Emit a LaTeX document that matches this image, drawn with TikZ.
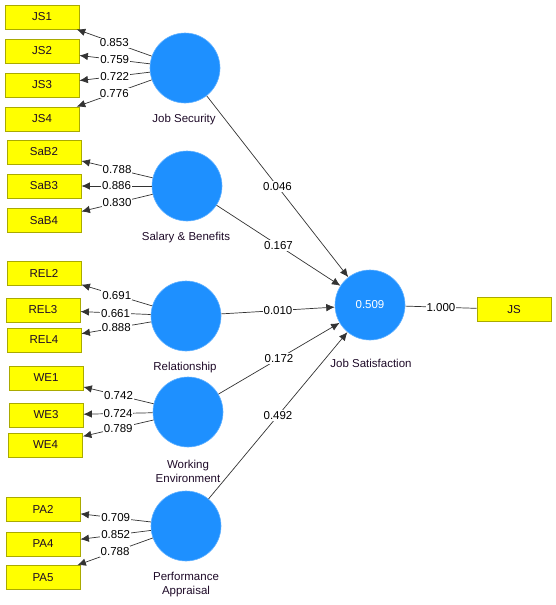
\documentclass[tikz,border=0pt]{standalone}
\usepackage{fontspec}
\setmainfont{Liberation Sans}
\usetikzlibrary{arrows.meta}
\definecolor{lvblue}{RGB}{30,144,255}
\definecolor{indyel}{RGB}{255,255,0}
\definecolor{indbord}{RGB}{170,170,0}
\definecolor{txtcol}{RGB}{30,10,40}
\tikzset{
  ind/.style={draw=indbord, fill=indyel, line width=0.8pt, minimum width=74pt, minimum height=24pt, inner sep=0pt, font=\fontsize{11.5}{13}\selectfont, text=txtcol},
  lv/.style={circle, fill=lvblue, draw=lvblue!70!white, line width=0.6pt, minimum size=70pt, inner sep=0pt, font=\fontsize{11.5}{13}\selectfont, text=white},
  lvlab/.style={font=\fontsize{11.5}{14}\selectfont, text=txtcol, align=center, inner sep=0pt},
  con/.style={draw=black!80, line width=0.7pt},
  arr/.style={con, -{Latex[length=8.5pt,width=7.5pt]}},
  wt/.style={fill=white, inner sep=1pt, font=\fontsize{11.5}{13}\selectfont, text=black, midway}
}
\begin{document}
\begin{tikzpicture}[x=1pt,y=-1pt]
\useasboundingbox (0,0) rectangle (556,605);
% indicators
\node[ind] (JS1) at (42,17) {JS1};
\node[ind] (JS2) at (42,51) {JS2};
\node[ind] (JS3) at (42,85) {JS3};
\node[ind] (JS4) at (42,119) {JS4};
\node[ind] (SaB2) at (44,152) {SaB2};
\node[ind] (SaB3) at (44,186) {SaB3};
\node[ind] (SaB4) at (44,220.5) {SaB4};
\node[ind] (REL2) at (44,273.5) {REL2};
\node[ind] (REL3) at (43,310) {REL3};
\node[ind] (REL4) at (44,340) {REL4};
\node[ind] (WE1) at (46,378) {WE1};
\node[ind] (WE3) at (46,415) {WE3};
\node[ind] (WE4) at (45.5,445) {WE4};
\node[ind] (PA2) at (43,509.5) {PA2};
\node[ind] (PA4) at (43,544) {PA4};
\node[ind] (PA5) at (43,577.5) {PA5};
\node[ind] (JS) at (514,309.5) {JS};
% latent variables
\node[lv] (JSec) at (185,68) {};
\node[lv] (Sal) at (187,186) {};
\node[lv] (Rel) at (186,316) {};
\node[lv] (WEnv) at (188,412) {};
\node[lv] (PApp) at (186,526) {};
\node[lv] (JSat) at (370,305) {0.509};
% latent labels
\node[lvlab] (lJSec) at (184,120) {Job Security};
\node[lvlab] (lSal) at (186,238) {Salary \& Benefits};
\node[lvlab] (lRel) at (185,368) {Relationship};
\node[lvlab] (lWEnv) at (188,471) {Working\\Environment};
\node[lvlab] (lPApp) at (186,585) {Performance\\Appraisal};
\node[lvlab] (lJSat) at (371,363) {Job Satisfaction};
% outer loadings
\draw[arr] (JSec) -- (JS1) node[wt] {0.853};
\draw[arr] (JSec) -- (JS2) node[wt] {0.759};
\draw[arr] (JSec) -- (JS3) node[wt] {0.722};
\draw[arr] (JSec) -- (JS4) node[wt] {0.776};
\draw[arr] (Sal) -- (SaB2) node[wt] {0.788};
\draw[arr] (Sal) -- (SaB3) node[wt] {0.886};
\draw[arr] (Sal) -- (SaB4) node[wt] {0.830};
\draw[arr] (Rel) -- (REL2) node[wt] {0.691};
\draw[arr] (Rel) -- (REL3) node[wt] {0.661};
\draw[arr] (Rel) -- (REL4) node[wt] {0.888};
\draw[arr] (WEnv) -- (WE1) node[wt] {0.742};
\draw[arr] (WEnv) -- (WE3) node[wt] {0.724};
\draw[arr] (WEnv) -- (WE4) node[wt] {0.789};
\draw[arr] (PApp) -- (PA2) node[wt] {0.709};
\draw[arr] (PApp) -- (PA4) node[wt] {0.852};
\draw[arr] (PApp) -- (PA5) node[wt] {0.788};
\draw[con] (JSat) -- (JS) node[wt] {1.000};
% path coefficients
\draw[arr] (JSec) -- (JSat) node[wt] {0.046};
\draw[arr] (Sal) -- (JSat) node[wt] {0.167};
\draw[arr] (Rel) -- (JSat) node[wt] {0.010};
\draw[arr] (WEnv) -- (JSat) node[wt] {0.172};
\draw[arr] (PApp) -- (JSat) node[wt] {0.492};
\end{tikzpicture}
\end{document}
